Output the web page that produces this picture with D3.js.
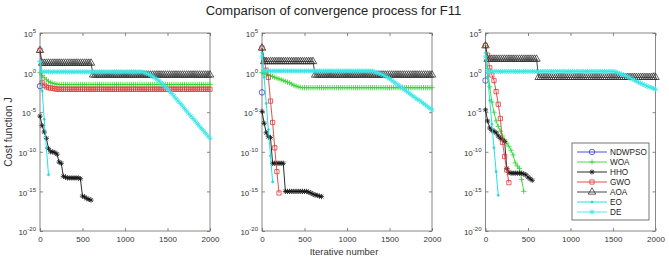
<!DOCTYPE html>
<html>
<head>
<meta charset="utf-8">
<script src="https://cdn.jsdelivr.net/npm/d3@7"></script>
<style>
  body { margin: 0; background: #fff; }
  text { font-family: Arial, "Liberation Sans", sans-serif; }
</style>
</head>
<body>
<svg id="chart" width="669" height="260"></svg>
<script>
/* ======================= DATA ========================== */
/* values are log10(cost), one every iterStep iterations  */

const iterStep = 25;
const algorithms = ["NDWPSO", "WOA", "HHO", "GWO", "AOA", "EO", "DE"];
const xTicks = [0, 500, 1000, 1500, 2000];
const yExpTicks = [5, 0, -5, -10, -15, -20];

// left panel
const leftNDWPSO = [-1.7];
const leftWOA = [
  0.0, -0.35, -0.65, -0.9, -1.1, -1.25, -1.35, -1.42, -1.47, -1.5,
  -1.5, -1.5, -1.5, -1.5, -1.5, -1.5, -1.5, -1.5, -1.5, -1.5,
  -1.5, -1.5, -1.5, -1.5, -1.5, -1.5, -1.5, -1.5, -1.5, -1.5,
  -1.5, -1.5, -1.5, -1.5, -1.5, -1.5, -1.5, -1.5, -1.5, -1.5,
  -1.5, -1.5, -1.5, -1.5, -1.5, -1.5, -1.5, -1.5, -1.5, -1.5,
  -1.5, -1.5, -1.5, -1.5, -1.5, -1.5, -1.5, -1.5, -1.5, -1.5,
  -1.5, -1.5, -1.5, -1.5, -1.5, -1.5, -1.5, -1.5, -1.5, -1.5,
  -1.5, -1.5, -1.5, -1.5, -1.5, -1.5, -1.5, -1.5, -1.5, -1.5,
  -1.5];
const leftHHO = [
  -5.5, -6.7, -7.5, -8.3, -9.6, -10.0, -10.0, -10.1, -10.3, -11.3,
  -11.45, -13.1, -13.2, -13.3, -13.3, -13.3, -13.3, -13.3, -13.3, -13.4,
  -15.6, -15.7, -15.9, -16.0, -16.1];
const leftGWO = [
  2.8, -1.3, -1.6, -1.8, -1.9, -1.95, -2.0, -2.05, -2.1, -2.1,
  -2.1, -2.1, -2.1, -2.1, -2.1, -2.1, -2.1, -2.1, -2.1, -2.1,
  -2.1, -2.1, -2.1, -2.1, -2.1, -2.1, -2.1, -2.1, -2.1, -2.1,
  -2.1, -2.1, -2.1, -2.1, -2.1, -2.1, -2.1, -2.1, -2.1, -2.1,
  -2.1, -2.1, -2.1, -2.1, -2.1, -2.1, -2.1, -2.1, -2.1, -2.1,
  -2.1, -2.1, -2.1, -2.1, -2.1, -2.1, -2.1, -2.1, -2.1, -2.1,
  -2.1, -2.1, -2.1, -2.1, -2.1, -2.1, -2.1, -2.1, -2.1, -2.1,
  -2.1, -2.1, -2.1, -2.1, -2.1, -2.1, -2.1, -2.1, -2.1, -2.1,
  -2.1];
const leftAOA = [
  2.8, 1.2, 1.2, 1.2, 1.2, 1.2, 1.2, 1.2, 1.2, 1.2,
  1.2, 1.2, 1.2, 1.2, 1.2, 1.2, 1.2, 1.2, 1.2, 1.2,
  1.2, 1.2, 1.2, 1.2, 1.2, -0.3, -0.3, -0.3, -0.3, -0.3,
  -0.3, -0.3, -0.3, -0.3, -0.3, -0.3, -0.3, -0.3, -0.3, -0.3,
  -0.3, -0.3, -0.3, -0.3, -0.3, -0.3, -0.3, -0.3, -0.3, -0.3,
  -0.3, -0.3, -0.3, -0.3, -0.3, -0.3, -0.3, -0.3, -0.3, -0.3,
  -0.3, -0.3, -0.3, -0.3, -0.3, -0.3, -0.3, -0.3, -0.3, -0.3,
  -0.3, -0.3, -0.3, -0.3, -0.3, -0.3, -0.3, -0.3, -0.3, -0.3,
  -0.3];
const leftEO = [1.4, -2.3, -5.9, -9.5, -12.9];
const leftDE = [
  1.4, 0.1, 0.1, 0.1, 0.1, 0.1, 0.1, 0.1, 0.1, 0.1,
  0.1, 0.1, 0.1, 0.1, 0.1, 0.1, 0.1, 0.1, 0.1, 0.1,
  0.1, 0.1, 0.1, 0.1, 0.1, 0.1, 0.1, 0.1, 0.1, 0.1,
  0.1, 0.1, 0.1, 0.1, 0.1, 0.1, 0.1, 0.1, 0.1, 0.1,
  0.1, 0.1, 0.1, 0.1, 0.1, 0.1, 0.1, 0.1, 0.1, 0.0,
  -0.1, -0.2, -0.35, -0.5, -0.65, -0.85, -1.05, -1.3, -1.55, -1.8,
  -2.05, -2.35, -2.65, -2.95, -3.3, -3.6, -3.9, -4.2, -4.55, -4.85,
  -5.2, -5.5, -5.8, -6.1, -6.45, -6.75, -7.05, -7.35, -7.7, -8.0,
  -8.3];

// middle panel
const midNDWPSO = [-2.5];
const midWOA = [
  0.0, -0.1, -0.2, -0.3, -0.4, -0.5, -0.6, -0.7, -0.8, -0.9,
  -1.0, -1.1, -1.2, -1.3, -1.45, -1.6, -1.7, -1.8, -1.85, -1.9,
  -1.9, -1.9, -1.9, -1.9, -1.9, -1.9, -1.9, -1.9, -1.9, -1.9,
  -1.9, -1.9, -1.9, -1.9, -1.9, -1.9, -1.9, -1.9, -1.9, -1.9,
  -1.9, -1.9, -1.9, -1.9, -1.9, -1.9, -1.9, -1.9, -1.9, -1.9,
  -1.9, -1.9, -1.9, -1.9, -1.9, -1.9, -1.9, -1.9, -1.9, -1.9,
  -1.9, -1.9, -1.9, -1.9, -1.9, -1.9, -1.9, -1.9, -1.9, -1.9,
  -1.9, -1.9, -1.9, -1.9, -1.9, -1.9, -1.9, -1.9, -1.9, -1.9,
  -1.9];
const midHHO = [
  -4.9, -6.4, -7.6, -8.1, -8.2, -11.45, -11.45, -11.45, -11.45, -11.45,
  -11.45, -15.0, -15.0, -15.0, -15.0, -15.0, -15.0, -15.0, -15.0, -15.0,
  -15.0, -15.0, -15.1, -15.2, -15.35, -15.45, -15.5, -15.6, -15.65];
const midGWO = [3.1, 1.6, 0.3, -0.6, -3.6, -6.3, -9.5, -12.5, -15.2];
const midAOA = [
  3.1, 1.4, 1.4, 1.4, 1.4, 1.4, 1.4, 1.4, 1.4, 1.4,
  1.4, 1.4, 1.4, 1.4, 1.4, 1.4, 1.4, 1.4, 1.4, 1.4,
  1.4, 1.4, 1.4, 1.4, 1.4, -0.3, -0.3, -0.3, -0.3, -0.3,
  -0.3, -0.3, -0.3, -0.3, -0.3, -0.3, -0.3, -0.3, -0.3, -0.3,
  -0.3, -0.3, -0.3, -0.3, -0.3, -0.3, -0.3, -0.3, -0.3, -0.3,
  -0.3, -0.3, -0.3, -0.3, -0.3, -0.3, -0.3, -0.3, -0.3, -0.3,
  -0.3, -0.3, -0.3, -0.3, -0.3, -0.3, -0.3, -0.3, -0.3, -0.3,
  -0.3, -0.3, -0.3, -0.3, -0.3, -0.3, -0.3, -0.3, -0.3, -0.3,
  -0.3];
const midEO = [2.5, -0.6, -3.9, -7.2, -10.5, -13.8];
const midDE = [
  2.0, 0.2, 0.2, 0.2, 0.2, 0.2, 0.2, 0.2, 0.2, 0.2,
  0.2, 0.2, 0.2, 0.2, 0.2, 0.2, 0.2, 0.2, 0.2, 0.2,
  0.2, 0.2, 0.2, 0.2, 0.2, 0.2, 0.2, 0.2, 0.2, 0.2,
  0.2, 0.2, 0.2, 0.2, 0.2, 0.2, 0.2, 0.2, 0.2, 0.2,
  0.2, 0.2, 0.2, 0.2, 0.2, 0.2, 0.2, 0.2, 0.2, 0.2,
  0.2, 0.2, 0.2, 0.1, 0.0, -0.1, -0.2, -0.3, -0.45, -0.6,
  -0.75, -0.95, -1.15, -1.35, -1.55, -1.75, -1.95, -2.15, -2.35, -2.55,
  -2.75, -2.95, -3.15, -3.35, -3.5, -3.7, -3.9, -4.1, -4.3, -4.5,
  -4.7];

// right panel
const rightNDWPSO = [-1.0];
const rightWOA = [
  3.4, 0.5, -1.8, -3.7, -5.0, -6.1, -6.8, -7.4, -8.0, -8.5,
  -8.9, -9.3, -9.8, -10.4, -11.4, -11.8, -12.1, -13.5, -15.0];
const rightHHO = [
  -4.7, -6.1, -7.0, -7.3, -7.4, -7.6, -8.0, -8.3, -8.5, -8.7,
  -12.1, -12.6, -12.7, -12.7, -12.7, -12.7, -12.7, -12.7, -12.8, -12.9,
  -13.2, -13.4, -13.6];
const rightGWO = [3.4, 2.2, 0.6, -0.3, -1.0, -2.4, -4.0, -5.8, -8.8, -10.6, -12.3, -13.9];
const rightAOA = [
  3.4, 1.7, 1.7, 1.7, 1.7, 1.7, 1.7, 1.7, 1.7, 1.7,
  1.7, 1.7, 1.7, 1.7, 1.7, 1.7, 1.7, 1.7, 1.7, 1.7,
  1.7, 1.7, 1.7, 1.7, 1.7, -0.6, -0.6, -0.6, -0.6, -0.6,
  -0.6, -0.6, -0.6, -0.6, -0.6, -0.6, -0.6, -0.6, -0.6, -0.6,
  -0.6, -0.6, -0.6, -0.6, -0.6, -0.6, -0.6, -0.6, -0.6, -0.6,
  -0.6, -0.6, -0.6, -0.6, -0.6, -0.6, -0.6, -0.6, -0.6, -0.6,
  -0.6, -0.6, -0.6, -0.6, -0.6, -0.6, -0.6, -0.6, -0.6, -0.6,
  -0.6, -0.6, -0.6, -0.6, -0.6, -0.6, -0.6, -0.6, -0.6, -0.6,
  -0.6];
const rightEO = [2.5, -0.5, -3.5, -6.5, -9.5, -12.5, -15.5];
const rightDE = [
  2.0, 0.15, 0.15, 0.15, 0.15, 0.15, 0.15, 0.15, 0.15, 0.15,
  0.15, 0.15, 0.15, 0.15, 0.15, 0.15, 0.15, 0.15, 0.15, 0.15,
  0.15, 0.15, 0.15, 0.15, 0.15, 0.15, 0.15, 0.15, 0.15, 0.15,
  0.15, 0.15, 0.15, 0.15, 0.15, 0.15, 0.15, 0.15, 0.15, 0.15,
  0.15, 0.15, 0.15, 0.15, 0.15, 0.15, 0.15, 0.15, 0.15, 0.15,
  0.15, 0.15, 0.15, 0.15, 0.15, 0.15, 0.15, 0.15, 0.15, 0.15,
  0.15, 0.1, 0.0, -0.1, -0.2, -0.3, -0.4, -0.55, -0.7, -0.8,
  -0.95, -1.1, -1.2, -1.35, -1.45, -1.6, -1.7, -1.8, -1.9, -2.0,
  -2.1];

/* ======================= LAYOUT ======================== */

const svg = d3.select("#chart");
const plotTop = 33, plotBottom = 231, plotWidth = 170;

const panels = [
  { x0: 40,    showXLabel: false, legend: false,
    series: [leftNDWPSO, leftWOA, leftHHO, leftGWO, leftAOA, leftEO, leftDE] },
  { x0: 262,   showXLabel: true,  legend: false,
    series: [midNDWPSO, midWOA, midHHO, midGWO, midAOA, midEO, midDE] },
  { x0: 485.5, showXLabel: false, legend: true,
    series: [rightNDWPSO, rightWOA, rightHHO, rightGWO, rightAOA, rightEO, rightDE] }
];

/* ===================== MARKERS ========================= */

const symPlus = {
  draw(ctx, size) {
    const r = Math.sqrt(size) / 2;
    ctx.moveTo(-r, 0); ctx.lineTo(r, 0);
    ctx.moveTo(0, -r); ctx.lineTo(0, r);
  }
};
const symStar = {
  draw(ctx, size) {
    const r = Math.sqrt(size) / 2, q = r * 0.72;
    ctx.moveTo(-r, 0); ctx.lineTo(r, 0);
    ctx.moveTo(0, -r); ctx.lineTo(0, r);
    ctx.moveTo(-q, -q); ctx.lineTo(q, q);
    ctx.moveTo(-q, q); ctx.lineTo(q, -q);
  }
};

const styles = {
  NDWPSO: { color: "#3a3ad8", symbol: d3.symbol(d3.symbolCircle, 24),   fill: "none" },
  WOA:    { color: "#34d434", symbol: d3.symbol(symPlus, 28),            fill: "none" },
  HHO:    { color: "#151515", symbol: d3.symbol(symStar, 28),            fill: "none" },
  GWO:    { color: "#e03a3a", symbol: d3.symbol(d3.symbolSquare, 18),    fill: "none" },
  AOA:    { color: "#333333", symbol: d3.symbol(d3.symbolTriangle, 24),  fill: "none" },
  EO:     { color: "#10dcdc", symbol: d3.symbol(d3.symbolCircle, 3),     fill: "#10dcdc" },
  DE:     { color: "#3ae6e6", symbol: d3.symbol(symStar, 26),            fill: "none" }
};

/* ===================== DRAWING ========================= */

function toPoints(exps) {
  return exps.map((e, i) => ({ it: i * iterStep, v: Math.pow(10, e) }));
}

function drawPanel(p) {
  const x = d3.scaleLinear().domain([0, 2000]).range([p.x0, p.x0 + plotWidth]);
  const y = d3.scaleLog().domain([1e-20, 1e5]).range([plotBottom, plotTop]);
  const g = svg.append("g");

  // axes
  const axisColor = "#6a6a6a";
  const bottom = g.append("g")
                  .attr("transform", `translate(0,${plotBottom})`)
                  .call(d3.axisBottom(x).tickValues(xTicks).tickFormat(d3.format("d"))
                          .tickSizeInner(-3).tickSizeOuter(0).tickPadding(5));
  const top = g.append("g")
               .attr("transform", `translate(0,${plotTop})`)
               .call(d3.axisTop(x).tickValues(xTicks).tickSizeInner(-3).tickSizeOuter(0).tickFormat(""));
  const left = g.append("g")
                .attr("transform", `translate(${p.x0},0)`)
                .call(d3.axisLeft(y).tickValues(yExpTicks.map(e => Math.pow(10, e)))
                        .tickSizeInner(-3).tickSizeOuter(0).tickPadding(4));
  const right = g.append("g")
                 .attr("transform", `translate(${p.x0 + plotWidth},0)`)
                 .call(d3.axisRight(y).tickValues(yExpTicks.map(e => Math.pow(10, e)))
                         .tickSizeInner(-3).tickSizeOuter(0).tickFormat(""));

  [bottom, top, left, right].forEach(a => {
    a.select(".domain").remove();
    a.selectAll("line").attr("stroke", axisColor).attr("stroke-width", 0.8);
    a.selectAll("text").attr("fill", "#333").style("font-size", "8px");
  });

  left.selectAll(".tick text").each(function(d) {
    const t = d3.select(this);
    const ex = Math.round(Math.log10(d));
    t.text(null).attr("dy", "0.45em");
    t.append("tspan").text("10");
    t.append("tspan").attr("dy", "-4").style("font-size", "6px").text(ex);
  });

  g.append("rect")
   .attr("x", p.x0).attr("y", plotTop)
   .attr("width", plotWidth).attr("height", plotBottom - plotTop)
   .attr("fill", "none").attr("stroke", axisColor).attr("stroke-width", 0.8);

  // series, in the order they were plotted
  const line = d3.line().x(d => x(d.it)).y(d => y(d.v));
  p.series.forEach((exps, k) => {
    const st = styles[algorithms[k]];
    const pts = toPoints(exps);
    g.append("path")
     .datum(pts)
     .attr("d", line)
     .attr("fill", "none")
     .attr("stroke", st.color)
     .attr("stroke-width", 0.9);
    g.append("g").selectAll("path")
     .data(pts)
     .join("path")
     .attr("transform", d => `translate(${x(d.it)},${y(d.v)})`)
     .attr("d", st.symbol)
     .attr("fill", st.fill)
     .attr("stroke", st.color)
     .attr("stroke-width", 0.8);
  });

  if (p.showXLabel) {
    svg.append("text")
       .attr("x", p.x0 + plotWidth / 2 - 3).attr("y", 254.5)
       .attr("text-anchor", "middle")
       .attr("fill", "#333")
       .style("font-size", "9.5px")
       .text("Iterative number");
  }

  if (p.legend) drawLegend();
}

function drawLegend() {
  const lg = svg.append("g");
  lg.append("rect")
    .attr("x", 572).attr("y", 143).attr("width", 77).attr("height", 77)
    .attr("fill", "#fff").attr("stroke", "#555").attr("stroke-width", 0.8);
  algorithms.forEach((name, i) => {
    const st = styles[name];
    const yy = 152 + i * 10;
    lg.append("line")
      .attr("x1", 577).attr("x2", 607).attr("y1", yy).attr("y2", yy)
      .attr("stroke", st.color).attr("stroke-width", 0.9);
    lg.append("path")
      .attr("transform", `translate(592,${yy})`)
      .attr("d", st.symbol)
      .attr("fill", st.fill)
      .attr("stroke", st.color)
      .attr("stroke-width", 0.8);
    lg.append("text")
      .attr("x", 610).attr("y", yy + 3)
      .attr("fill", "#222")
      .style("font-size", "8.2px")
      .text(name);
  });
}

panels.forEach(drawPanel);

// title and shared y label
svg.append("text")
   .attr("x", 333.5).attr("y", 14.5)
   .attr("text-anchor", "middle")
   .attr("fill", "#222")
   .style("font-size", "13px")
   .text("Comparison of convergence process for F11");

svg.append("text")
   .attr("transform", "translate(12,132) rotate(-90)")
   .attr("text-anchor", "middle")
   .attr("fill", "#333")
   .style("font-size", "10.5px")
   .text("Cost function J");
</script>
</body>
</html>
